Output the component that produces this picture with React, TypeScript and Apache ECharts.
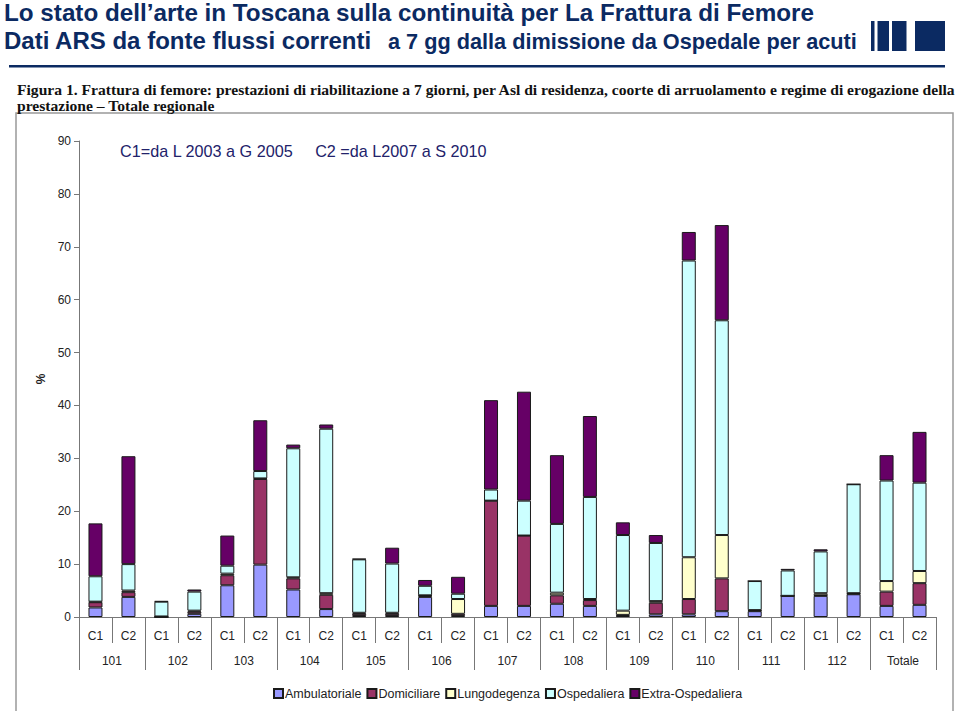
import React, { useEffect, useRef } from "react";
import * as echarts from "echarts";

const groups = ["101", "102", "103", "104", "105", "106", "107", "108", "109", "110", "111", "112", "Totale"];
const cohorts = ["C1", "C2"];
const seriesNames = ["Ambulatoriale", "Domiciliare", "Lungodegenza", "Ospedaliera", "Extra-Ospedaliera"];
const seriesColors = ["#9999ff", "#993366", "#ffffcc", "#ccffff", "#660066"];

// order: 101 C1, 101 C2, 102 C1, 102 C2, ... Totale C1, Totale C2
const ambulatoriale = [1.8, 3.8, 0, 0.6, 6.0, 9.9, 5.2, 1.5, 0.2, 0.2, 3.8, 0.2, 2.1, 2.1, 2.5, 2.1, 0.2, 0.5, 0.5, 1.1, 1.1, 4.0, 4.0, 4.3, 2.1, 2.3];
const domiciliare = [1.0, 0.9, 0, 0.4, 1.9, 16.2, 2.1, 2.7, 0.4, 0.4, 0.2, 0.4, 19.9, 13.3, 1.6, 1.1, 0.2, 2.2, 2.9, 6.2, 0.1, 0, 0.1, 0.1, 2.7, 4.1];
const lungodegenza = [0.1, 0.3, 0.1, 0.2, 0.3, 0.1, 0.2, 0.3, 0.2, 0.2, 0.1, 2.8, 0, 0, 0.5, 0.2, 0.8, 0.3, 7.9, 8.2, 0.1, 0, 0.4, 0.1, 2.0, 2.3];
const ospedaliera = [4.8, 5.0, 2.8, 3.6, 1.5, 1.4, 24.4, 31.1, 10.1, 9.3, 1.8, 1.0, 2.1, 6.6, 13.0, 19.3, 14.3, 11.0, 56.1, 40.6, 5.5, 4.8, 7.9, 20.6, 19.0, 16.7];
const extraOspedaliera = [10.0, 20.4, 0.1, 0.4, 5.7, 9.6, 0.7, 0.8, 0.1, 3.0, 1.1, 3.2, 16.9, 20.6, 13.0, 15.3, 2.4, 1.5, 5.4, 18.0, 0, 0.3, 0.4, 0, 4.8, 9.6];
const seriesValues = [ambulatoriale, domiciliare, lungodegenza, ospedaliera, extraOspedaliera];

const titleLine1 = "Lo stato dell\u2019arte in Toscana sulla continuità per La Frattura di Femore";
const titleLine2a = "Dati ARS da fonte flussi correnti";
const titleLine2b = "a 7 gg dalla dimissione da Ospedale per acuti";
const caption1 = "Figura 1. Frattura di femore: prestazioni di riabilitazione a 7 giorni, per Asl di residenza, coorte di arruolamento e regime di erogazione della";
const caption2 = "prestazione \u2013 Totale regionale";
const cohortNote = "C1=da L 2003 a G 2005     C2 =da L2007 a S 2010";

const NAVY = "#0b2a62";

export default function App() {
  const ref = useRef<HTMLDivElement>(null);
  useEffect(() => {
    if (!ref.current) return;
    const chart = echarts.init(ref.current, undefined, { renderer: "svg" });
    const barCats: string[] = [];
    groups.forEach(() => cohorts.forEach((c) => barCats.push(c)));

    const option: any = {
      animation: false,
      backgroundColor: "#ffffff",
      grid: { left: 79, right: 24, top: 141, bottom: 94, containLabel: false },
      legend: {
        data: seriesNames,
        bottom: 6,
        left: 268,
        itemWidth: 9,
        itemHeight: 9,
        itemGap: 5,
        icon: "rect",
        textStyle: { fontFamily: "Liberation Sans, Arial", fontSize: 12.5, color: "#222", padding: [0, 0, 0, -3] },
      },
      xAxis: [
        {
          type: "category",
          data: barCats,
          position: "bottom",
          axisLine: { lineStyle: { color: "#777", width: 1 } },
          axisTick: { show: true, length: 26, lineStyle: { color: "#777" }, interval: 0 },
          axisLabel: { interval: 0, margin: 13, fontFamily: "Liberation Sans, Arial", fontSize: 12, color: "#222" },
        },
        {
          type: "category",
          data: groups,
          position: "bottom",
          axisLine: { show: false },
          axisTick: { show: true, length: 53, lineStyle: { color: "#777" }, interval: 0 },
          axisLabel: { interval: 0, margin: 38, fontFamily: "Liberation Sans, Arial", fontSize: 12, color: "#222" },
        },
      ],
      yAxis: {
        type: "value",
        min: 0,
        max: 90,
        interval: 10,
        name: "%",
        nameLocation: "middle",
        nameGap: 32,
        nameRotate: 90,
        nameTextStyle: { fontFamily: "Liberation Sans, Arial", fontSize: 12, color: "#222", fontWeight: "bold" },
        axisLine: { show: true, lineStyle: { color: "#777" } },
        axisTick: { show: true, length: 5, lineStyle: { color: "#777" } },
        axisLabel: { margin: 8, fontFamily: "Liberation Sans, Arial", fontSize: 12, color: "#222" },
        splitLine: { show: false },
      },
      series: seriesNames.map((name, i) => ({
        name,
        type: "bar",
        stack: "total",
        xAxisIndex: 0,
        barWidth: 14,
        data: seriesValues[i],
        itemStyle: { color: seriesColors[i], borderColor: "#1a1a1a", borderWidth: 1 },
      })),
      graphic: [
        { type: "rect", shape: { x: 16, y: 113, width: 937, height: 610 }, style: { fill: "none", stroke: "#999", lineWidth: 1.5 }, z: -1 },
        {
          type: "text", x: 4, y: 13, scaleX: 1.01,
          style: { text: titleLine1, fontFamily: "Liberation Sans, Arial", fontWeight: "bold", fontSize: 24, fill: NAVY, textVerticalAlign: "middle" },
        },
        {
          type: "text", x: 4, y: 40,
          style: { text: titleLine2a, fontFamily: "Liberation Sans, Arial", fontWeight: "bold", fontSize: 24, fill: NAVY, textVerticalAlign: "middle" },
        },
        {
          type: "text", x: 388, y: 41,
          style: { text: titleLine2b, fontFamily: "Liberation Sans, Arial", fontWeight: "bold", fontSize: 21.7, fill: NAVY, textVerticalAlign: "middle" },
        },
        { type: "rect", shape: { x: 871, y: 21, width: 3.5, height: 30 }, style: { fill: NAVY } },
        { type: "rect", shape: { x: 877.5, y: 21, width: 11.5, height: 30 }, style: { fill: NAVY } },
        { type: "rect", shape: { x: 892, y: 21, width: 14.5, height: 30 }, style: { fill: NAVY } },
        { type: "rect", shape: { x: 915, y: 21, width: 30, height: 30 }, style: { fill: NAVY } },
        { type: "rect", shape: { x: 9, y: 65, width: 936, height: 2.5 }, style: { fill: NAVY } },
        {
          type: "text", x: 17, y: 89,
          style: { text: caption1, fontFamily: "Liberation Serif, Times New Roman", fontWeight: "bold", fontSize: 15.6, fill: "#111", textVerticalAlign: "middle" },
        },
        {
          type: "text", x: 17, y: 105,
          style: { text: caption2, fontFamily: "Liberation Serif, Times New Roman", fontWeight: "bold", fontSize: 15.6, fill: "#111", textVerticalAlign: "middle" },
        },
        {
          type: "text", x: 120, y: 151,
          style: { text: cohortNote, fontFamily: "Liberation Sans, Arial", fontSize: 16.2, fill: "#22226a", textVerticalAlign: "middle" },
        },
      ],
    };
    chart.setOption(option);
    return () => chart.dispose();
  }, []);
  return <div ref={ref} style={{ position: "fixed", left: 0, top: 0, width: 960, height: 711 }} />;
}
